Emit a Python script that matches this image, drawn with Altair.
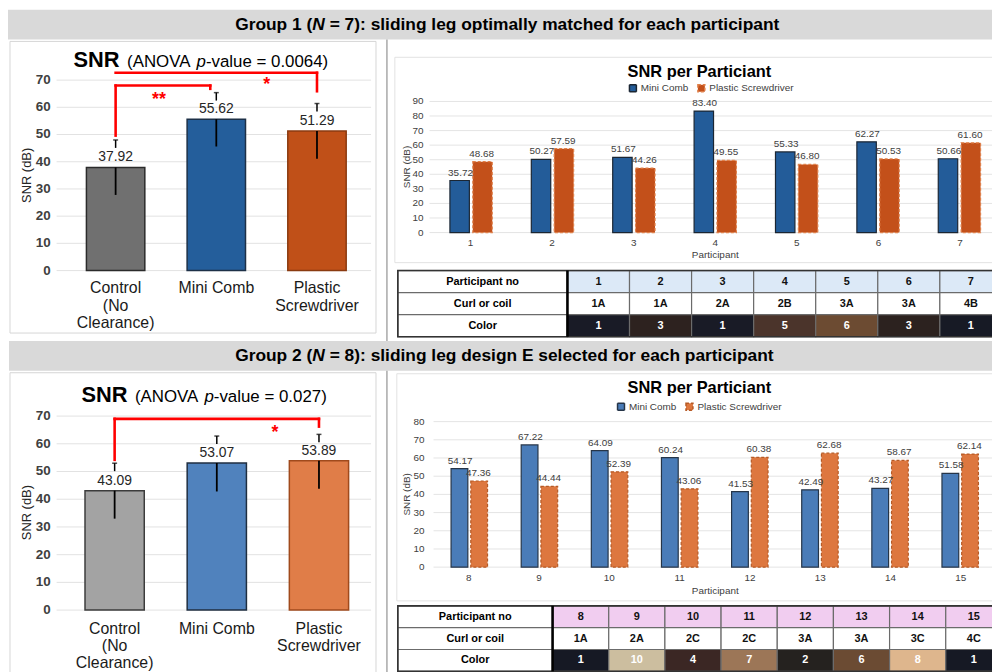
import altair as alt
import pandas as pd

FONT = "Liberation Sans"
M = 8                 # page margin
W, H = 992, 664       # canvas size


def px(v):
    """page pixel -> canvas pixel"""
    return v - M


# ------------------------------------------------------------------ data
cond_keys = ["Control", "Mini Comb", "Plastic Screwdriver"]
cond_labels = ["Control\n(No\nClearance)", "Mini Comb", "Plastic\nScrewdriver"]

g1_mean = [37.92, 55.62, 51.29]
g1_low = [27.8, 45.6, 41.1]
g1_high = [48.0, 65.4, 61.4]

g2_mean = [43.09, 53.07, 53.89]
g2_low = [33.0, 42.8, 43.8]
g2_high = [53.0, 62.8, 63.4]

# brackets: (from position, to position, level, left-leg bottom, right-leg bottom)
g1_brackets = [(0, 2, 72.7, 72.7, 65.9), (0, 0.94, 68.0, 49.6, 66.8)]
g2_brackets = [(0, 2, 69.0, 54.2, 66.2)]
# stars: (text, position, value)
g1_stars = [("**", 0.43, 64.6), ("*", 1.5, 69.9)]
g2_stars = [("*", 1.57, 65.5)]

left_ticks = [0, 10, 20, 30, 40, 50, 60, 70]

series = ["Mini Comb", "Plastic Screwdriver"]

g1_participants = ["1", "2", "3", "4", "5", "6", "7"]
g1_mini = [35.72, 50.27, 51.67, 83.40, 55.33, 62.27, 50.66]
g1_plastic = [48.68, 57.59, 44.26, 49.55, 46.80, 50.53, 61.60]
g1_ticks = [0, 10, 20, 30, 40, 50, 60, 70, 80, 90]

g2_participants = ["8", "9", "10", "11", "12", "13", "14", "15"]
g2_mini = [54.17, 67.22, 64.09, 60.24, 41.53, 42.49, 43.27, 51.58]
g2_plastic = [47.36, 44.44, 52.39, 43.06, 60.38, 62.68, 58.67, 62.14]
g2_ticks = [0, 10, 20, 30, 40, 50, 60, 70, 80]

table_rows = ["Participant no", "Curl or coil", "Color"]
g1_curl = ["1A", "1A", "2A", "2B", "3A", "3A", "4B"]
g1_color_no = ["1", "3", "1", "5", "6", "3", "1"]
g1_color_fill = ["#191b26", "#2d221f", "#191b26", "#4b342b", "#6c4b32", "#2c221f", "#171a25"]
g2_curl = ["1A", "2A", "2C", "2C", "3A", "3A", "3C", "4C"]
g2_color_no = ["1", "10", "4", "7", "2", "6", "8", "1"]
g2_color_fill = ["#161924", "#ccbe9f", "#3b2724", "#9c7657", "#25221f", "#6b4b33", "#deb68d", "#161924"]

# ------------------------------------------------------------------ helpers
def one():
    return alt.Data(values=[{"k": 0}])


def rect(x0, y0, x1, y1, **style):
    return alt.Chart(one()).mark_rect(**style).encode(
        x=alt.value(px(x0)), x2=alt.value(px(x1)),
        y=alt.value(px(y0)), y2=alt.value(px(y1)))


def vline(x, y0, y1, **style):
    return alt.Chart(one()).mark_rule(**style).encode(
        x=alt.value(px(x)), y=alt.value(px(y0)), y2=alt.value(px(y1)))


def label(text, x, y, size, weight="normal", style="normal", align="left",
          baseline="alphabetic", color="#000000", angle=0):
    return alt.Chart(alt.Data(values=[{"t": text}])).mark_text(
        font=FONT, fontSize=size, fontWeight=weight, fontStyle=style,
        align=align, baseline=baseline, color=color, angle=angle
    ).encode(text="t:N", x=alt.value(px(x)), y=alt.value(px(y)))


HALF = 0.29


def left_panel(means, lows, highs, fills, strokes, dashes, brackets, stars,
               c0, step, ybot, ytop, xlab_top, ytitle_y):
    df = pd.DataFrame({"cond": cond_keys, "label": cond_labels, "pos": [0, 1, 2],
                       "mean": means, "low": lows, "high": highs})
    xs = alt.Scale(domain=[-0.5, 2.5], range=[px(c0 - 0.5 * step), px(c0 + 2.5 * step)],
                   nice=False, zero=False)
    ys = alt.Scale(domain=[0, 70], range=[px(ybot), px(ytop)], nice=False, zero=False)

    def X(f):
        return alt.X(f, scale=xs, axis=None)

    def Y(f):
        return alt.Y(f, scale=ys, axis=None)

    ticks = pd.DataFrame({"v": left_ticks})
    out = []
    out.append(alt.Chart(ticks).mark_rule(color="#e2e2e2", strokeWidth=1).encode(
        y=Y("v:Q"), x=alt.value(px(57)), x2=alt.value(px(374))))
    out.append(alt.Chart(ticks).mark_text(font=FONT, fontSize=13.5, fontWeight="bold",
                                          color="#404040", align="right", baseline="middle").encode(
        y=Y("v:Q"), x=alt.value(px(51)), text="v:Q"))
    base = alt.Chart(df).transform_calculate(x0=f"datum.pos - {HALF}", x1=f"datum.pos + {HALF}")
    out.append(base.mark_rect(strokeWidth=1.5).encode(
        x=X("x0:Q"), x2="x1:Q", y=Y("mean:Q"), y2=alt.datum(0),
        color=alt.Color("cond:N", scale=alt.Scale(domain=cond_keys, range=fills), legend=None),
        stroke=alt.Stroke("cond:N", scale=alt.Scale(domain=cond_keys, range=strokes), legend=None),
        strokeDash=alt.StrokeDash("cond:N", scale=alt.Scale(domain=cond_keys, range=dashes), legend=None)))
    out.append(alt.Chart(df).mark_rule(color="black", strokeWidth=1.8).encode(
        x=X("pos:Q"), y=Y("low:Q"), y2="mean:Q"))
    out.append(alt.Chart(df).mark_rule(color="black", strokeWidth=1.5, y2Offset=8).encode(
        x=X("pos:Q"), y=Y("high:Q"), y2="high:Q"))
    out.append(alt.Chart(df).mark_tick(orient="horizontal", size=5, thickness=1.5, color="black").encode(
        x=X("pos:Q"), y=Y("high:Q")))
    out.append(alt.Chart(df).mark_text(font=FONT, fontSize=14, color="#262626",
                                       baseline="bottom", dy=-3).encode(
        x=X("pos:Q"), y=Y("mean:Q"), text=alt.Text("mean:Q", format=".2f")))
    out.append(alt.Chart(df).mark_text(font=FONT, fontSize=16, color="#1a1a1a", baseline="top",
                                       lineBreak="\n", lineHeight=17.5).encode(
        x=X("pos:Q"), y=alt.value(px(xlab_top)), text="label:N"))
    segs = []
    for a, b, lev, lb, rb in brackets:
        segs.append({"x0": a, "x1": b, "y0": lev, "y1": lev})
        if lb != lev:
            segs.append({"x0": a, "x1": a, "y0": lev, "y1": lb})
        if rb != lev:
            segs.append({"x0": b, "x1": b, "y0": lev, "y1": rb})
    out.append(alt.Chart(pd.DataFrame(segs)).mark_rule(color="#ff0000", strokeWidth=2.6,
                                                       strokeCap="square").encode(
        x=X("x0:Q"), x2="x1:Q", y=Y("y0:Q"), y2="y1:Q"))
    sdf = pd.DataFrame(stars, columns=["t", "p", "v"])
    out.append(alt.Chart(sdf).mark_text(font=FONT, fontSize=18, fontWeight="bold", color="#ff0000",
                                        baseline="middle", dy=5).encode(
        x=X("p:Q"), y=Y("v:Q"), text="t:N"))
    out.append(label("SNR (dB)", 27, ytitle_y, 13, angle=270, align="center",
                     baseline="middle", color="#262626"))
    return out


def right_panel(parts, mini, plastic, ticks, ymax, ybot, ytop, xr0, xr1, colors, strokes,
                title_y, legend_x, legend_y, ylab_x, xlab_y, xtitle_y):
    n = len(parts)
    df = pd.DataFrame({"participant": parts * 2,
                       "series": [series[0]] * n + [series[1]] * n,
                       "value": mini + plastic})
    pdf = pd.DataFrame({"participant": parts})
    xs = alt.Scale(domain=parts, range=[px(xr0), px(xr1)], paddingInner=0.48, paddingOuter=0.25)
    xo = alt.Scale(domain=series, paddingInner=0.15)
    ys = alt.Scale(domain=[0, ymax], range=[px(ybot), px(ytop)], nice=False, zero=False)

    def X():
        return alt.X("participant:N", scale=xs, axis=None)

    def XO():
        return alt.XOffset("series:N", scale=xo)

    def Y(f):
        return alt.Y(f, scale=ys, axis=None)

    tdf = pd.DataFrame({"v": ticks})
    out = []
    out.append(alt.Chart(tdf).mark_rule(color="#e4e4e4", strokeWidth=1).encode(
        y=Y("v:Q"), x=alt.value(px(xr0)), x2=alt.value(px(1010))))
    out.append(alt.Chart(tdf).mark_text(font=FONT, fontSize=10, color="#404040", align="right",
                                        baseline="middle").encode(
        y=Y("v:Q"), x=alt.value(px(ylab_x)), text="v:Q"))
    out.append(alt.Chart(df).mark_bar(strokeWidth=1.2).encode(
        x=X(), xOffset=XO(), y=Y("value:Q"),
        color=alt.Color("series:N", scale=alt.Scale(domain=series, range=colors),
                        legend=alt.Legend(orient="none", legendX=px(legend_x), legendY=px(legend_y),
                                          direction="horizontal", title=None, symbolType="square",
                                          symbolSize=49, labelFont=FONT, labelFontSize=10,
                                          labelColor="#404040", columnPadding=6, labelOffset=3,
                                          padding=0)),
        stroke=alt.Stroke("series:N", scale=alt.Scale(domain=series, range=strokes), legend=None),
        strokeDash=alt.StrokeDash("series:N", scale=alt.Scale(domain=series, range=[[1, 0], [3, 2]]),
                                  legend=None)))
    out.append(alt.Chart(df).mark_text(font=FONT, fontSize=10, color="#404040", baseline="bottom",
                                       dy=-3).encode(
        x=X(), xOffset=XO(), y=Y("value:Q"), text=alt.Text("value:Q", format=".2f")))
    out.append(alt.Chart(pdf).mark_text(font=FONT, fontSize=10, color="#404040",
                                        baseline="middle").encode(
        x=X(), y=alt.value(px(xlab_y)), text="participant:N"))
    out.append(label("Participant", 721, xtitle_y, 10, align="center", baseline="middle",
                     color="#404040"))
    out.append(label("SNR (dB)", 410, (ybot + ytop) / 2, 10, angle=270, align="center",
                     baseline="middle", color="#404040"))
    out.append(label("SNR per Particiant", 705, title_y, 16.5, weight="bold", align="center",
                     baseline="middle"))
    return out


def table(parts, curls, color_nos, color_fills, head_fill, x0, xsplit, x1, y0, y1):
    n = len(parts)
    w0 = (xsplit - x0) / ((x1 - xsplit) / n)
    recs = []
    for r in table_rows:
        recs.append({"row": r, "a": 0.0, "b": w0, "text": r, "fill": "#ffffff", "tc": "#000000"})
    for i in range(n):
        recs.append({"row": table_rows[0], "a": w0 + i, "b": w0 + i + 1, "text": parts[i],
                     "fill": head_fill, "tc": "#111111"})
        recs.append({"row": table_rows[1], "a": w0 + i, "b": w0 + i + 1, "text": curls[i],
                     "fill": "#ffffff", "tc": "#111111"})
        recs.append({"row": table_rows[2], "a": w0 + i, "b": w0 + i + 1, "text": color_nos[i],
                     "fill": color_fills[i], "tc": "#ffffff"})
    df = pd.DataFrame(recs)
    df["m"] = (df["a"] + df["b"]) / 2
    xs = alt.Scale(domain=[0, w0 + n], range=[px(x0), px(x1)], nice=False, zero=False)
    ys = alt.Scale(domain=table_rows, range=[px(y0), px(y1)], paddingInner=0, paddingOuter=0)
    out = []
    out.append(alt.Chart(df).mark_rect(stroke="#6b6b6b", strokeWidth=1.2).encode(
        x=alt.X("a:Q", scale=xs, axis=None), x2="b:Q",
        y=alt.Y("row:N", scale=ys, axis=None),
        fill=alt.Fill("fill:N", scale=None)))
    out.append(alt.Chart(df).mark_text(font=FONT, fontSize=11, fontWeight="bold",
                                       baseline="middle").encode(
        x=alt.X("m:Q", scale=xs, axis=None), y=alt.Y("row:N", scale=ys, axis=None),
        text="text:N", color=alt.Color("tc:N", scale=None)))
    edge = pd.DataFrame({"a": [0.0], "b": [w0 + n], "s": [w0]})
    out.append(alt.Chart(edge).mark_rect(fill="#ffffff", fillOpacity=0, stroke="#333333",
                                         strokeWidth=1.6).encode(
        x=alt.X("a:Q", scale=xs, axis=None), x2="b:Q",
        y=alt.value(px(y0)), y2=alt.value(px(y1))))
    out.append(alt.Chart(edge).mark_rule(color="#000000", strokeWidth=2.6).encode(
        x=alt.X("s:Q", scale=xs, axis=None), y=alt.value(px(y0)), y2=alt.value(px(y1))))
    return out


# ------------------------------------------------------------------ assemble
layers = []
# backgrounds / frames
layers.append(rect(5, 7, 1010, 37, fill="#d9d9d9"))
layers.append(rect(9, 341, 1010, 371, fill="#d9d9d9"))
layers.append(rect(10, 39, 379, 333, fill="#ffffff", stroke="#d6d6d6", strokeWidth=1))
layers.append(rect(10, 373, 379, 700, fill="#ffffff", stroke="#d6d6d6", strokeWidth=1))
layers.append(rect(398, 55, 1012, 262, fill="#ffffff", stroke="#e2e2e2", strokeWidth=1))
layers.append(rect(400, 374, 1012, 603, fill="#ffffff", stroke="#e2e2e2", strokeWidth=1))
layers.append(vline(390, 37, 341, color="#a8a8a8", strokeWidth=1.5))
layers.append(vline(390, 371, 680, color="#a8a8a8", strokeWidth=1.5))

# header texts
HS = 17.5
for gy, num, rest in [(22, "1", "= 7): sliding leg optimally matched for each participant"),
                      (356, "2", "= 8): sliding leg design E selected for each participant")]:
    layers.append(label(f"Group {num} (", 237, gy, HS, weight="bold", baseline="middle"))
    layers.append(label("N", 237 + 4.445 * HS, gy, HS, weight="bold", style="italic",
                        baseline="middle"))
    layers.append(label(rest, 237 + (4.445 + 0.722 + 0.278) * HS, gy, HS, weight="bold",
                        baseline="middle"))

# left titles
for base_y, x_snr, x_an, pval in [(65, 74, 128, "0.0064"), (402, 82, 136, "0.027")]:
    layers.append(label("SNR", x_snr, base_y, 22, weight="bold"))
    layers.append(label("(ANOVA", x_an, base_y, 17))
    layers.append(label("p", x_an + 70, base_y, 17, style="italic"))
    layers.append(label(f"-value = {pval})", x_an + 79.5, base_y, 17))

# left charts
layers += left_panel(g1_mean, g1_low, g1_high,
                     ["#707070", "#245e9b", "#c05018"], ["#2b2b2b", "#1d3047", "#8a3a10"],
                     [[2, 1.5], [1, 0], [4, 2]], g1_brackets, g1_stars,
                     116.5, 101.5, 270, 78, 280, 174)
layers += left_panel(g2_mean, g2_low, g2_high,
                     ["#a3a3a3", "#5082bd", "#e07d48"], ["#3c3c3c", "#1f2e40", "#a04a1c"],
                     [[2, 1.5], [1, 0], [4, 2]], g2_brackets, g2_stars,
                     115.5, 103, 612.3, 416.7, 623, 514)

# right charts
layers += right_panel(g1_participants, g1_mini, g1_plastic, g1_ticks, 90, 231.7, 99.5, 433, 1009,
                      ["#235c99", "#c3501a"], ["#1b2633", "#e0804a"],
                      70, 633, 81, 427, 242.7, 254)
layers += right_panel(g2_participants, g2_mini, g2_plastic, g2_ticks, 80, 569, 422.3, 437, 1004,
                      ["#4a7cb8", "#dd773f"], ["#263548", "#b65a25"],
                      388, 621, 402, 428, 580, 593)

# tables
layers += table(g1_participants, g1_curl, g1_color_no, g1_color_fill, "#dce9f7",
                401, 572, 1010, 270, 336.7)
layers += table(g2_participants, g2_curl, g2_color_no, g2_color_fill, "#f1cdf0",
                401, 557, 1010, 608, 674)

chart = alt.layer(*layers).resolve_scale(
    x="independent", y="independent", xOffset="independent", color="independent",
    stroke="independent", strokeDash="independent"
).properties(
    width=W, height=H, padding=0, autosize=alt.AutoSizeParams(type="none")
).configure_view(strokeOpacity=0)

chart.save("out.html", embed_options={"renderer": "svg", "actions": False})
